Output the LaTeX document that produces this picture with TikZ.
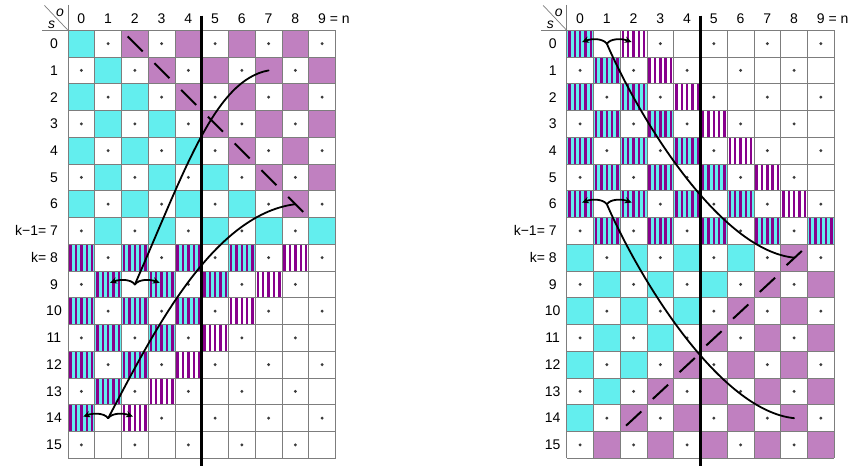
\documentclass[tikz,border=0pt]{standalone}
\usepackage{fontspec}
\setmainfont{Liberation Sans}
\usetikzlibrary{arrows.meta,calc}
\definecolor{cyanc}{RGB}{99,238,238}
\definecolor{purpc}{RGB}{192,128,192}
\definecolor{stripec}{RGB}{136,0,140}
\definecolor{dotc}{RGB}{60,60,60}
\definecolor{gridc}{RGB}{125,125,125}
\tikzset{
  lab/.style={font=\fontsize{14}{16}\selectfont, inner sep=0pt},
  corner/.style={font=\fontsize{14}{16}\selectfont\itshape, inner sep=0pt},
  curve/.style={line width=1.8pt, line cap=round},
  dashseg/.style={line width=2pt},
  gline/.style={gridc, line width=0.8pt},
  arr/.style={curve,-{Stealth[length=7pt,width=6.5pt]}}
}
\newcommand{\stripecell}[3]{%
  \fill[#1] (#2,#3) rectangle ++(1,1);
  \foreach \i in {0,...,4}{\fill[stripec] ({#2+0.055+0.2*\i},#3) rectangle ++(0.09,1);}%
}
\newcommand{\branches}[1]{%
  \draw[arr] (#1) .. controls ($(#1)+(-0.15,-0.2)$) and ($(#1)+(-0.55,-0.2)$) .. ($(#1)+(-0.93,-0.06)$);
  \draw[arr] (#1) .. controls ($(#1)+(0.15,-0.2)$) and ($(#1)+(0.55,-0.2)$) .. ($(#1)+(0.93,-0.06)$);
}
\newcommand{\gridlabels}[1]{%
  \foreach \i in {0,...,10}{\draw[gline] (\i,0) -- (\i,16);}
  \foreach \j in {0,...,16}{\draw[gline] (0,\j) -- (10,\j);}
  \draw[gline] (0,-0.95) -- (0,0) (-0.96,0) -- (0,0);
  \draw[gridc, line width=0.7pt] (-0.88,-0.93) -- (0,0);
  \node[corner] (#1-s) at (-0.61,-0.2) {s};
  \node[corner] (#1-o) at (-0.3,-0.64) {o};
  \foreach \c in {0,...,8}{\node[lab] (#1-h\c) at (\c+0.5,-0.45) {\c};}
  \node[lab] (#1-h9) at (9.5,-0.45) {9\rlap{ = n}};
  \foreach \r in {0,...,6,9,10,...,15}{\node[lab] (#1-r\r) at (-0.523,\r+0.5) {\r};}
  \node[lab] (#1-r7) at (-0.523,7.5) {\llap{k−1= }7};
  \node[lab] (#1-r8) at (-0.523,8.5) {\llap{k= }8};
}
\begin{document}
\begin{tikzpicture}[x=1pt,y=-1pt]
\useasboundingbox (0,0) rectangle (854,468);
\fill[white] (0,0) rectangle (854,468);

% ================= LEFT GRID =================
\begin{scope}[shift={(68pt,-30.3pt)},x=26.75pt,y=-26.75pt]
\foreach \r in {0,...,15}{
  \foreach \c in {0,...,9}{
    \pgfmathtruncatemacro{\pr}{mod(\r+\c,2)}
    \pgfmathtruncatemacro{\lm}{16-\r}
    \ifnum\pr=0
      \ifnum\r<8
        \ifnum\c>\r
          \ifnum\r<7 \fill[purpc] (\c,\r) rectangle ++(1,1);
          \else \fill[cyanc] (\c,\r) rectangle ++(1,1); \fi
        \else \fill[cyanc] (\c,\r) rectangle ++(1,1); \fi
      \else
        \ifnum\c<\lm \stripecell{cyanc}{\c}{\r}\fi
        \ifnum\c=\lm \ifnum\r<15 \stripecell{white}{\c}{\r}\fi\fi
      \fi
    \fi
  }
}
\gridlabels{L}
\foreach \r in {0,...,15}{
  \foreach \c in {0,...,9}{
    \pgfmathtruncatemacro{\pr}{mod(\r+\c,2)}
    \def\dodot{1}
    \ifnum\c=2 \ifnum\r=9 \def\dodot{0}\fi\fi
    \ifnum\c=1 \ifnum\r=14 \def\dodot{0}\fi\fi
    \ifnum\pr=1 \ifnum\dodot=1 \fill[dotc] (\c+0.5,\r+0.5) circle (1.6pt);\fi\fi
  }
}
\foreach \r in {0,...,6}{
  \draw[dashseg] (\r+2.23,\r+0.23) -- (\r+2.79,\r+0.79);
}
\draw[line width=2.6pt] (5,-0.55) -- (5,16.29);
\coordinate (LJ1) at (2.5,9.5);
\coordinate (LE1) at (7.5,1.5);
\coordinate (LJ2) at (1.5,14.5);
\coordinate (LE2) at (8.5,6.5);
\draw[curve] (LJ1) .. controls (4.374,5.222) and (5.495,1.858) .. (LE1);
\draw[curve] (LJ2) .. controls (3.065,11.57) and (5.308,6.905) .. (LE2);
\branches{LJ1}
\branches{LJ2}
\end{scope}

% ================= RIGHT GRID =================
\begin{scope}[shift={(566.7pt,-30.3pt)},x=26.75pt,y=-26.75pt]
\foreach \r in {0,...,15}{
  \foreach \c in {0,...,9}{
    \pgfmathtruncatemacro{\pr}{mod(\r+\c,2)}
    \pgfmathtruncatemacro{\lm}{16-\r}
    \pgfmathtruncatemacro{\wp}{\r+2}
    \ifnum\pr=0
      \ifnum\r<8
        \ifnum\r=7 \stripecell{cyanc}{\c}{\r}
        \else
          \ifnum\c>\r
            \ifnum\c=\wp \stripecell{white}{\c}{\r}\fi
          \else \stripecell{cyanc}{\c}{\r}\fi
        \fi
      \else
        \ifnum\c<\lm \fill[cyanc] (\c,\r) rectangle ++(1,1);
        \else \fill[purpc] (\c,\r) rectangle ++(1,1); \fi
      \fi
    \fi
  }
}
\gridlabels{R}
\foreach \r in {0,...,15}{
  \foreach \c in {0,...,9}{
    \pgfmathtruncatemacro{\pr}{mod(\r+\c,2)}
    \def\dodot{1}
    \ifnum\c=1 \ifnum\r=0 \def\dodot{0}\fi\fi
    \ifnum\c=1 \ifnum\r=6 \def\dodot{0}\fi\fi
    \ifnum\pr=1 \ifnum\dodot=1 \fill[dotc] (\c+0.5,\r+0.5) circle (1.6pt);\fi\fi
  }
}
\foreach \r in {8,...,14}{
  \draw[dashseg] (16-\r+0.22,\r+0.78) -- (16-\r+0.79,\r+0.25);
}
\draw[line width=2.6pt] (5,-0.55) -- (5,16.29);
\coordinate (RJ1) at (1.5,0.5);
\coordinate (RE1) at (8.5,8.5);
\coordinate (RJ2) at (1.5,6.5);
\coordinate (RE2) at (8.5,14.5);
\draw[curve] (RJ1) .. controls (2.74,3.353) and (5.735,8.213) .. (RE1);
\draw[curve] (RJ2) .. controls (2.74,9.353) and (5.735,14.213) .. (RE2);
\branches{RJ1}
\branches{RJ2}
\end{scope}
\end{tikzpicture}
\end{document}
